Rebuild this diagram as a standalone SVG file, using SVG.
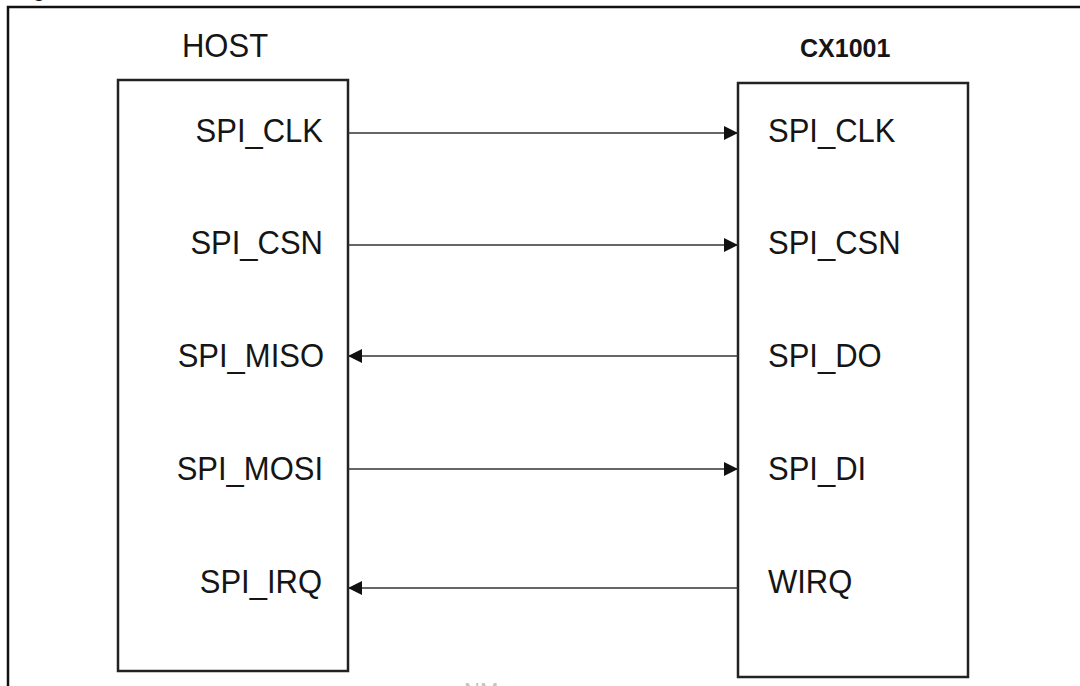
<svg xmlns="http://www.w3.org/2000/svg" width="1080" height="686" viewBox="0 0 1080 686">
  <style>
    .frame { fill: none; stroke: #111; stroke-width: 2.5; }
    .box { fill: #fff; stroke: #222; stroke-width: 2.5; }
    .pin { font-family: "Liberation Sans", Arial, sans-serif; font-size: 31px; fill: #151515; }
    .chip { font-family: "Liberation Sans", Arial, sans-serif; font-size: 25px; font-weight: bold; fill: #151515; }
    .wire { stroke: #333; stroke-width: 1.6; fill: none; }
  </style>
  <defs>
    <marker id="arrow" viewBox="0 0 14 14" refX="14" refY="7" markerWidth="14" markerHeight="14" markerUnits="userSpaceOnUse" orient="auto">
      <path d="M0,0 L14,7 L0,14 Z" fill="#111"/>
    </marker>
  </defs>

  <rect width="1080" height="686" fill="#fff"/>

  <!-- figure caption, clipped above the frame -->
  <text x="33" y="-3" font-family="Liberation Sans, Arial, sans-serif" font-size="20" font-weight="bold" fill="#111">g</text>

  <!-- outer figure frame: top and left edges -->
  <path class="frame" d="M1082,7 H8 V690"/>

  <g id="host">
    <text class="pin" transform="translate(182,57) scale(1,1.09)">HOST</text>
    <rect class="box" x="118" y="80" width="230" height="591"/>
    <text class="pin" transform="translate(323,142) scale(1,1.09)" text-anchor="end">SPI_CLK</text>
    <text class="pin" transform="translate(323,254) scale(1,1.09)" text-anchor="end">SPI_CSN</text>
    <text class="pin" transform="translate(324,367) scale(1,1.09)" text-anchor="end">SPI_MISO</text>
    <text class="pin" transform="translate(323,480) scale(1,1.09)" text-anchor="end">SPI_MOSI</text>
    <text class="pin" transform="translate(322,593) scale(1,1.09)" text-anchor="end">SPI_IRQ</text>
  </g>

  <g id="cx1001">
    <text class="chip" x="800" y="57">CX1001</text>
    <rect class="box" x="738" y="83" width="230" height="594"/>
    <text class="pin" transform="translate(768,142) scale(1,1.09)">SPI_CLK</text>
    <text class="pin" transform="translate(768,254) scale(1,1.09)">SPI_CSN</text>
    <text class="pin" transform="translate(768,367) scale(1,1.09)">SPI_DO</text>
    <text class="pin" transform="translate(768,480) scale(1,1.09)">SPI_DI</text>
    <text class="pin" transform="translate(768,593) scale(1,1.09)">WIRQ</text>
  </g>

  <g id="connectors">
    <line class="wire" x1="348" y1="133" x2="738" y2="133" marker-end="url(#arrow)"/>
    <line class="wire" x1="348" y1="245" x2="738" y2="245" marker-end="url(#arrow)"/>
    <line class="wire" x1="738" y1="356" x2="348" y2="356" marker-end="url(#arrow)"/>
    <line class="wire" x1="348" y1="469" x2="738" y2="469" marker-end="url(#arrow)"/>
    <line class="wire" x1="738" y1="588" x2="348" y2="588" marker-end="url(#arrow)"/>
  </g>

  <!-- faint mark at the lower edge, mostly clipped -->
  <text x="464" y="698" font-family="Liberation Sans, Arial, sans-serif" font-size="22" fill="#c4c4c4">NM</text>
</svg>
